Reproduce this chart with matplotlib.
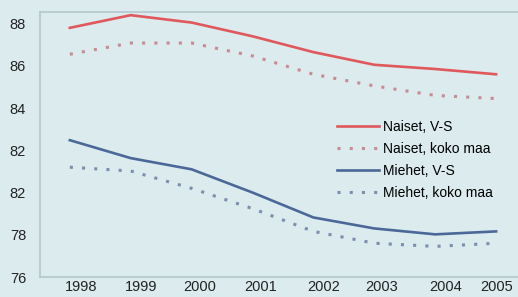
import matplotlib
matplotlib.use("Agg")
import matplotlib.pyplot as plt
from matplotlib.transforms import ScaledTranslation

# === Data ===
years = [1998, 1999, 2000, 2001, 2002, 2003, 2004, 2005]
naiset_vs = [87.8, 88.4, 88.05, 87.4, 86.65, 86.05, 85.85, 85.6]
naiset_koko = [86.55, 87.08, 87.08, 86.47, 85.6, 85.05, 84.6, 84.45]
miehet_vs = [82.48, 81.63, 81.1, 80.0, 78.82, 78.3, 78.02, 78.16]
miehet_koko = [81.2, 81.02, 80.2, 79.24, 78.16, 77.6, 77.45, 77.6]

series_labels = ["Naiset, V-S", "Naiset, koko maa", "Miehet, V-S", "Miehet, koko maa"]
y_ticks = [76, 78, 80, 82, 84, 86, 88]
y_tick_labels = ["76", "78", "82", "82", "84", "86", "88"]  # as printed in the original

# === Style ===
plt.rcParams["font.family"] = ["Liberation Sans Narrow", "Liberation Sans", "DejaVu Sans"]
bg = "#dbebee"
red = "#e0585c"
red_dot = "#c98a92"
blue = "#4b6898"
blue_dot = "#7c8eae"
frame = "#b3c7cd"

fig = plt.figure(figsize=(5.18, 2.97), dpi=100, facecolor=bg)
ax = fig.add_axes([0.0772, 0.0673, 0.9228, 0.8923], facecolor=bg)

ax.plot(years, naiset_vs, color=red, lw=1.9, label=series_labels[0])
ax.plot(years, naiset_koko, color=red_dot, lw=2.2, linestyle=(0, (1, 3)),
        label=series_labels[1])
ax.plot(years, miehet_vs, color=blue, lw=1.9, label=series_labels[2])
ax.plot(years, miehet_koko, color=blue_dot, lw=2.2, linestyle=(0, (1, 3)),
        label=series_labels[3])

ax.set_xlim(1997.51, 2005.36)
ax.set_ylim(76.1, 88.55)

ax.set_yticks(y_ticks)
ax.set_yticklabels(y_tick_labels)
ax.set_xticks(years)
ax.set_xticklabels([str(y) for y in years])
ax.tick_params(axis="both", length=0, labelsize=10.5, colors="#222222")
ax.tick_params(axis="y", pad=10)
ax.tick_params(axis="x", pad=2)

# the year labels sit a little right of the data points in the original
shifts = [11, 10, 8, 8, 10, 7, 10, 1]
for lab, px in zip(ax.get_xticklabels(), shifts):
    lab.set_transform(lab.get_transform() + ScaledTranslation(px / 100, 0, fig.dpi_scale_trans))

for side in ["left", "top", "bottom"]:
    ax.spines[side].set_color(frame)
    ax.spines[side].set_linewidth(1.2)
ax.spines["right"].set_visible(False)

ax.legend(loc="upper left", bbox_to_anchor=(0.622, 0.592), frameon=False,
          fontsize=10, handlelength=3.0, handletextpad=0.3, labelspacing=0.58,
          borderaxespad=0, borderpad=0)

fig.savefig("out.png", dpi=100, facecolor=bg)
